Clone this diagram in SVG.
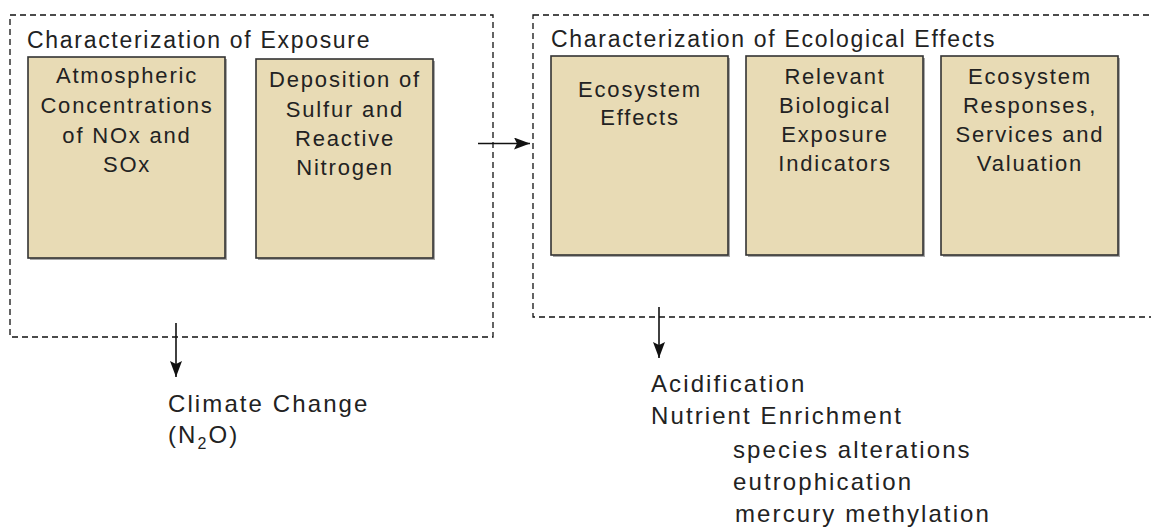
<svg xmlns="http://www.w3.org/2000/svg" width="1151" height="527" viewBox="0 0 1151 527">
<style>
.bg{fill:#ffffff}
.group{fill:none;stroke:#111;stroke-width:1.3;stroke-dasharray:6,4}
.box{fill:#E8DBB5;stroke:#333;stroke-width:1.6}
.shadow{fill:#a8a8a8}
.title{font-family:"Liberation Sans",Arial,sans-serif;font-size:23px;letter-spacing:1.7px;fill:#222}
.bt{font-family:"Liberation Sans",Arial,sans-serif;font-size:22px;letter-spacing:1.8px;fill:#222;text-anchor:middle}
.out{font-family:"Liberation Sans",Arial,sans-serif;font-size:24px;letter-spacing:2.1px;fill:#222}
.conn{stroke:#111;stroke-width:1.6;fill:none}
</style>
<defs>
<marker id="ah" viewBox="0 0 16 12" markerWidth="16" markerHeight="12" refX="16" refY="6" orient="auto" markerUnits="userSpaceOnUse">
<path d="M0,0 L16,6 L0,12 L3,6 z" fill="#111"/>
</marker>
</defs>
<rect class="bg" x="0" y="0" width="1151" height="527"/>

<g id="exposure-group">
<rect class="group" x="10" y="15" width="483" height="322"/>
<text class="title" x="27" y="48">Characterization of Exposure</text>
</g>

<g id="atmospheric">
<rect class="shadow" x="30" y="59" width="197" height="201"/>
<rect class="box" x="28" y="57" width="197" height="201"/>
<text class="bt" x="127" y="83">Atmospheric</text>
<text class="bt" x="127" y="113">Concentrations</text>
<text class="bt" x="127" y="143">of NOx and</text>
<text class="bt" x="127" y="172">SOx</text>
</g>

<g id="deposition">
<rect class="shadow" x="258" y="61" width="177" height="199"/>
<rect class="box" x="256" y="59" width="177" height="199"/>
<text class="bt" x="345" y="87">Deposition of</text>
<text class="bt" x="345" y="117">Sulfur and</text>
<text class="bt" x="345" y="146">Reactive</text>
<text class="bt" x="345" y="175">Nitrogen</text>
</g>

<g id="ecological-group">
<rect class="group" x="533" y="15" width="660" height="302"/>
<text class="title" x="551" y="47">Characterization of Ecological Effects</text>
</g>

<g id="ecosystem-effects">
<rect class="shadow" x="553" y="58" width="177" height="199"/>
<rect class="box" x="551" y="56" width="177" height="199"/>
<text class="bt" x="640" y="97">Ecosystem</text>
<text class="bt" x="640" y="125">Effects</text>
</g>

<g id="biological-indicators">
<rect class="shadow" x="748" y="58" width="177" height="199"/>
<rect class="box" x="746" y="56" width="177" height="199"/>
<text class="bt" x="835" y="84">Relevant</text>
<text class="bt" x="835" y="113">Biological</text>
<text class="bt" x="835" y="142">Exposure</text>
<text class="bt" x="835" y="171">Indicators</text>
</g>

<g id="ecosystem-responses">
<rect class="shadow" x="943" y="58" width="177" height="199"/>
<rect class="box" x="941" y="56" width="177" height="199"/>
<text class="bt" x="1030" y="84">Ecosystem</text>
<text class="bt" x="1030" y="113">Responses,</text>
<text class="bt" x="1030" y="142">Services and</text>
<text class="bt" x="1030" y="171">Valuation</text>
</g>

<g id="climate-change">
<text class="out" x="168" y="412">Climate Change</text>
<text class="out" x="168" y="443">(N<tspan font-size="16" dy="6">2</tspan><tspan dy="-6">O)</tspan></text>
</g>

<g id="effects-list">
<text class="out" x="651" y="392">Acidification</text>
<text class="out" x="651" y="424">Nutrient Enrichment</text>
<text class="out" x="733" y="458">species alterations</text>
<text class="out" x="733" y="490">eutrophication</text>
<text class="out" x="735" y="522">mercury methylation</text>
</g>

<g id="connectors">
<line class="conn" x1="478" y1="143.5" x2="530" y2="143.5" marker-end="url(#ah)"/>
<line class="conn" x1="176" y1="323" x2="176" y2="377" marker-end="url(#ah)"/>
<line class="conn" x1="659" y1="307" x2="659" y2="358" marker-end="url(#ah)"/>
</g>
</svg>
